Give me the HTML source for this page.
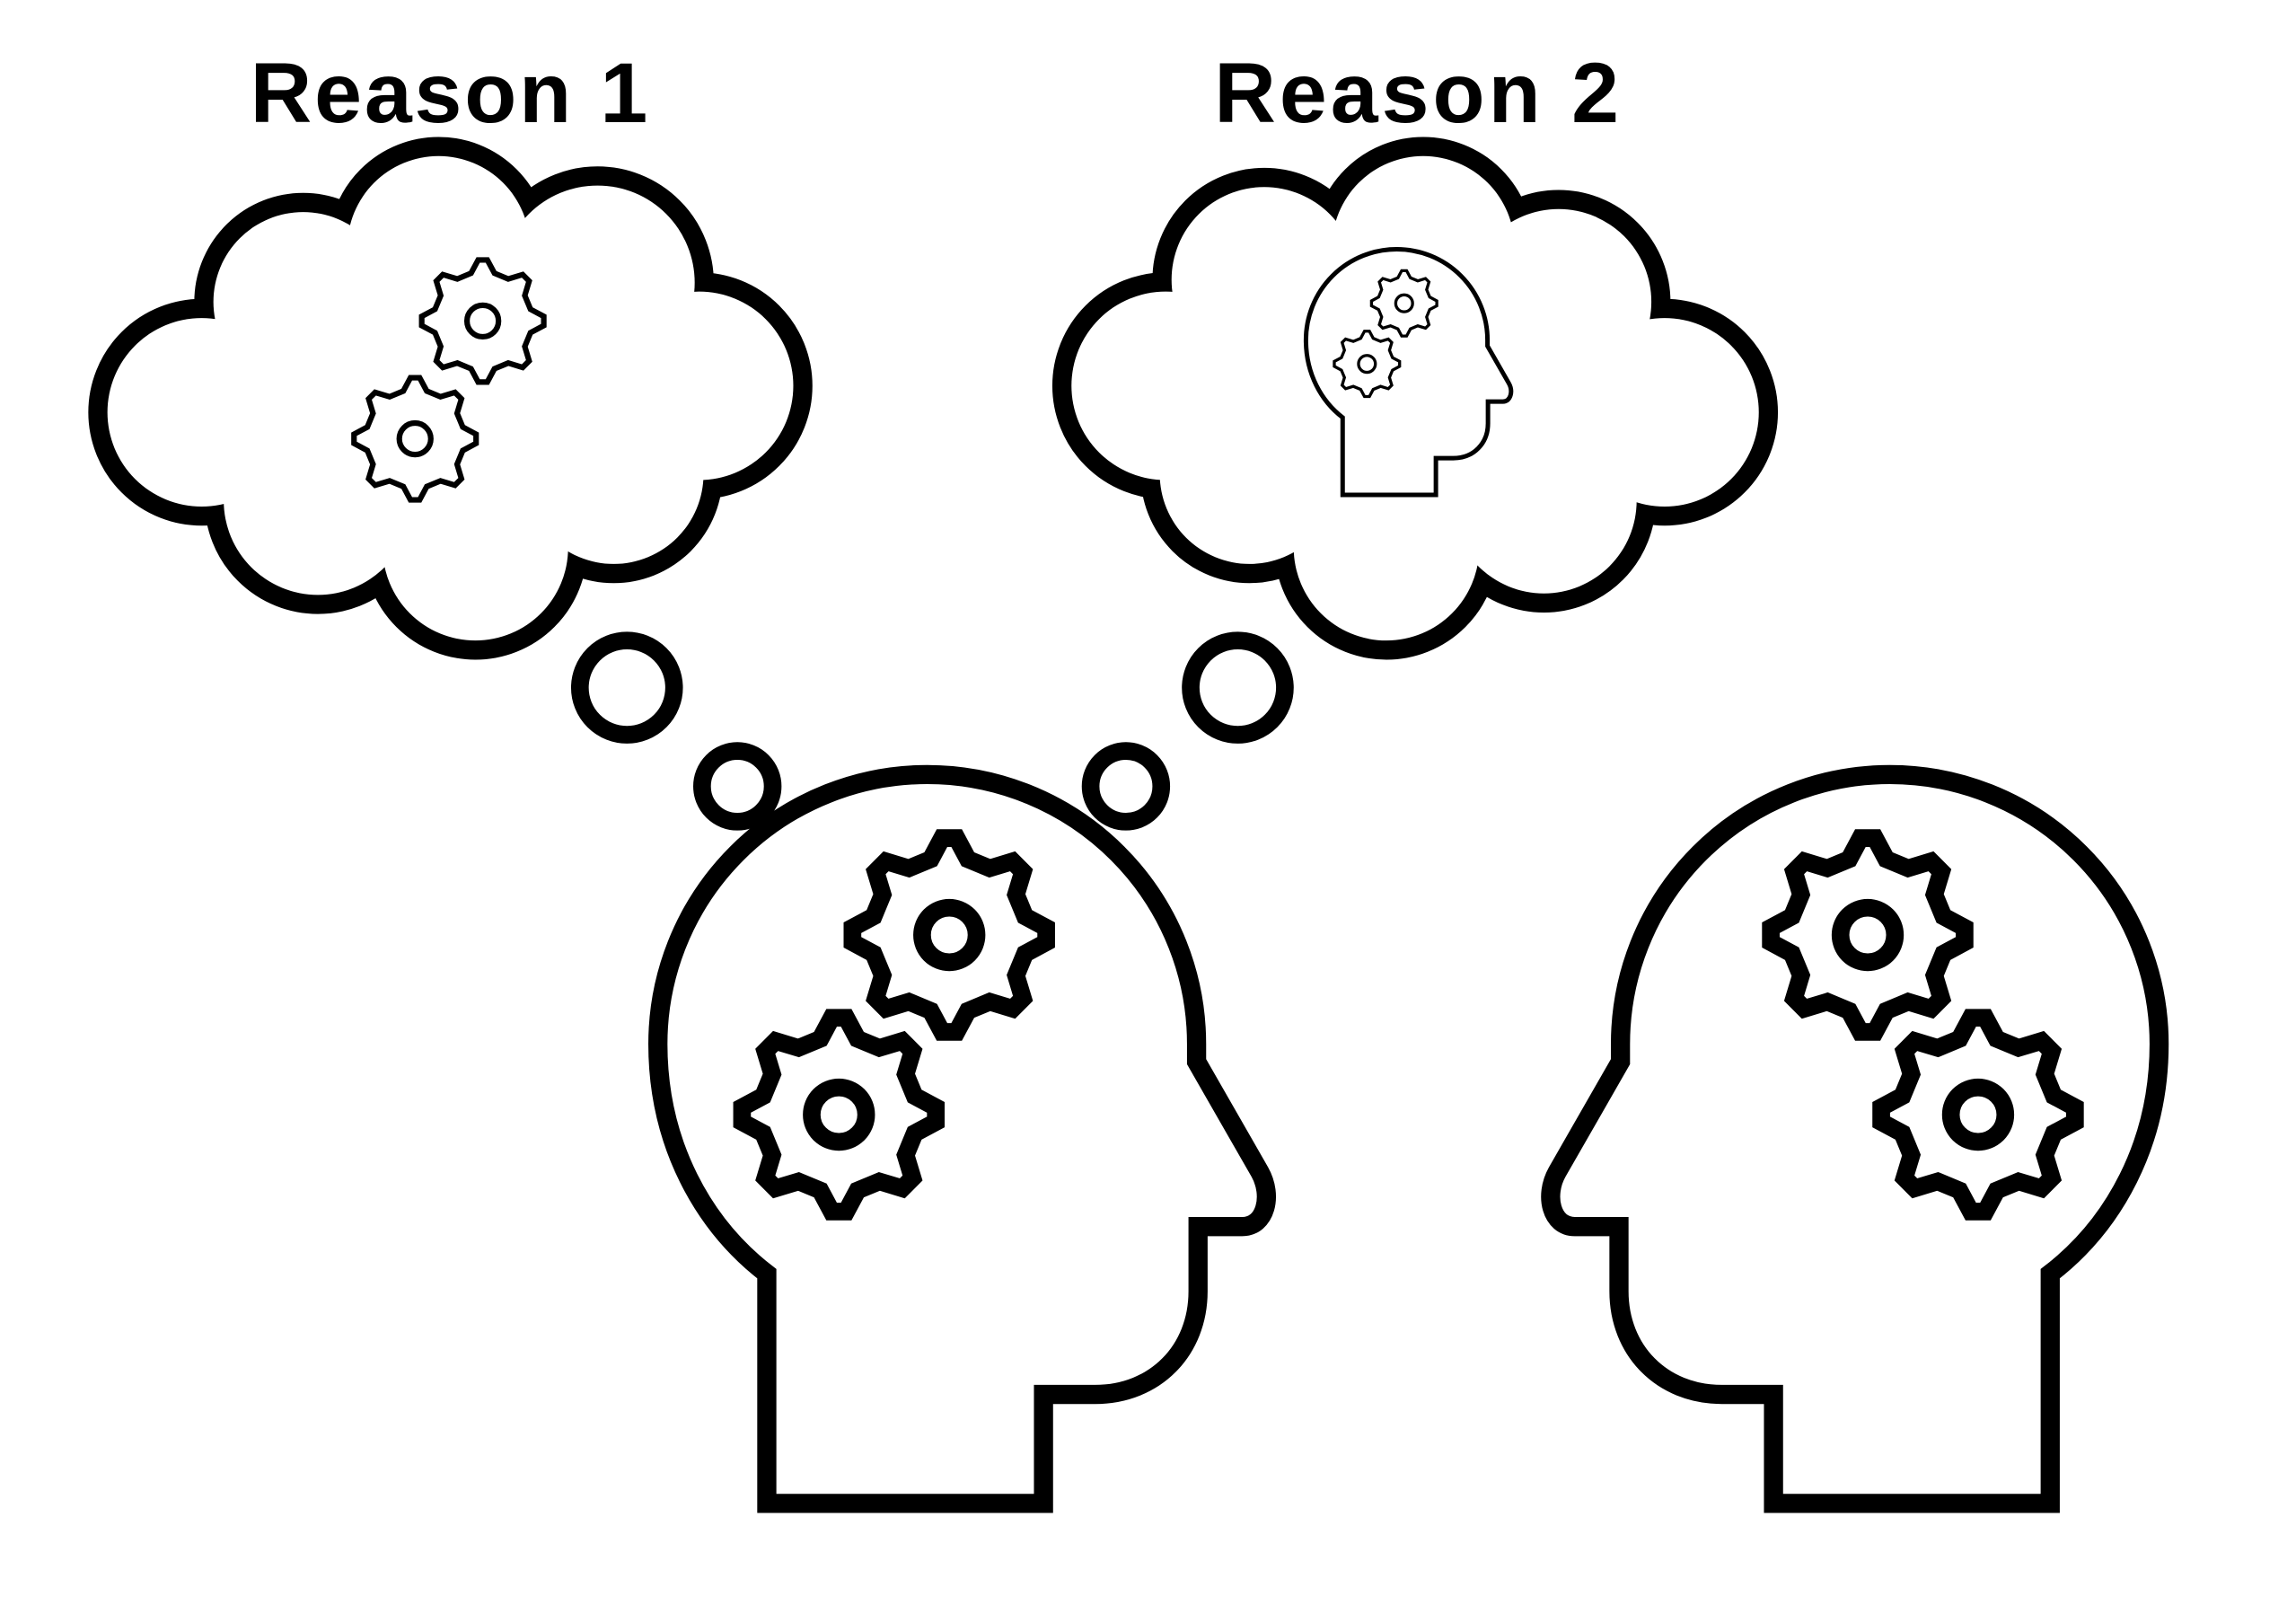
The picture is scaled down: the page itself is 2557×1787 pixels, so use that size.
<!DOCTYPE html>
<html><head><meta charset="utf-8"><style>html,body{margin:0;padding:0;background:#fff}svg{display:block}</style></head>
<body>
<svg width="2557" height="1787" viewBox="0 0 1560 1090" preserveAspectRatio="none" xmlns="http://www.w3.org/2000/svg">
<defs>
<polygon id="gshape" points="-12.64,-51.47 -4.95,-65.82 4.95,-65.82 12.64,-51.47 27.46,-45.33 43.04,-50.04 50.04,-43.04 45.33,-27.46 51.47,-12.64 65.82,-4.95 65.82,4.95 51.47,12.64 45.33,27.46 50.04,43.04 43.04,50.04 27.46,45.33 12.64,51.47 4.95,65.82 -4.95,65.82 -12.64,51.47 -27.46,45.33 -43.04,50.04 -50.04,43.04 -45.33,27.46 -51.47,12.64 -65.82,4.95 -65.82,-4.95 -51.47,-12.64 -45.33,-27.46 -50.04,-43.04 -43.04,-50.04 -27.46,-45.33"/>
<g id="gearBig">
<use href="#gshape" fill="#fff" stroke="#000" stroke-width="12" stroke-linejoin="miter"/>
<circle r="18.5" fill="none" stroke="#000" stroke-width="12"/>
</g>
<g id="gearThin">
<use href="#gshape" fill="#fff" stroke="#000" stroke-width="6" stroke-linejoin="miter"/>
<circle r="17" fill="none" stroke="#000" stroke-width="6"/>
</g>
<g id="cloud1c">
<circle cx="137" cy="280" r="64"/><circle cx="206" cy="205" r="61"/><circle cx="298" cy="168" r="62"/>
<circle cx="406" cy="192" r="66"/><circle cx="475" cy="262" r="64"/><circle cx="417" cy="322" r="61"/>
<circle cx="323" cy="372" r="63"/><circle cx="216" cy="340" r="64"/><circle cx="305" cy="270" r="120"/>
</g>
<g id="cloud2c">
<circle cx="792" cy="262" r="64"/><circle cx="859" cy="190" r="63"/><circle cx="967" cy="168" r="62"/>
<circle cx="1059" cy="205" r="63"/><circle cx="1131" cy="280" r="64"/><circle cx="1049" cy="340" r="63"/>
<circle cx="942" cy="372" r="63"/><circle cx="849" cy="322" r="61"/><circle cx="960" cy="270" r="120"/>
</g>
<path id="head" d="M523,1024 V868 C480,835 449,780 449,712 A183,183 0 0 1 815,712 V724 L858,799 C867,815 862,836 846,836 H816 V880 C816,920 787,950 746,950 H711 V1024 Z"/>
<g id="headFull">
<use href="#head" fill="none" stroke="#000" stroke-width="13"/>
<use href="#gearBig" transform="translate(647,638)"/>
<use href="#gearBig" transform="translate(572,760)"/>
</g>
</defs>
<rect width="1560" height="1090" fill="#fff"/>

<text x="170" y="83" font-family="Liberation Sans, sans-serif" font-weight="bold" font-size="58" textLength="270" lengthAdjust="spacing">Reason 1</text>
<text x="825" y="83" font-family="Liberation Sans, sans-serif" font-weight="bold" font-size="58" textLength="275" lengthAdjust="spacing">Reason 2</text>

<use href="#cloud1c" fill="#000" stroke="#000" stroke-width="26"/>
<use href="#cloud1c" fill="#fff" stroke="none"/>
<use href="#cloud2c" fill="#000" stroke="#000" stroke-width="26"/>
<use href="#cloud2c" fill="#fff" stroke="none"/>

<g fill="none" stroke="#000" stroke-width="12">
<circle cx="426" cy="467" r="32"/><circle cx="501" cy="534" r="24"/>
<circle cx="841" cy="467" r="32"/><circle cx="765" cy="534" r="24"/>
</g>

<use href="#gearThin" transform="translate(328,218) scale(0.63)"/>
<use href="#gearThin" transform="translate(282,298) scale(0.63)"/>

<g transform="translate(736,-9) scale(0.337)">
<use href="#head" fill="none" stroke="#000" stroke-width="9"/>
<use href="#gearThin" transform="translate(647,638)"/>
<use href="#gearThin" transform="translate(572,760)"/>
</g>

<use href="#headFull" transform="translate(-2,-3)"/>
<g transform="translate(1916,-3) scale(-1,1)">
<use href="#headFull"/>
</g>
</svg>
</body></html>
